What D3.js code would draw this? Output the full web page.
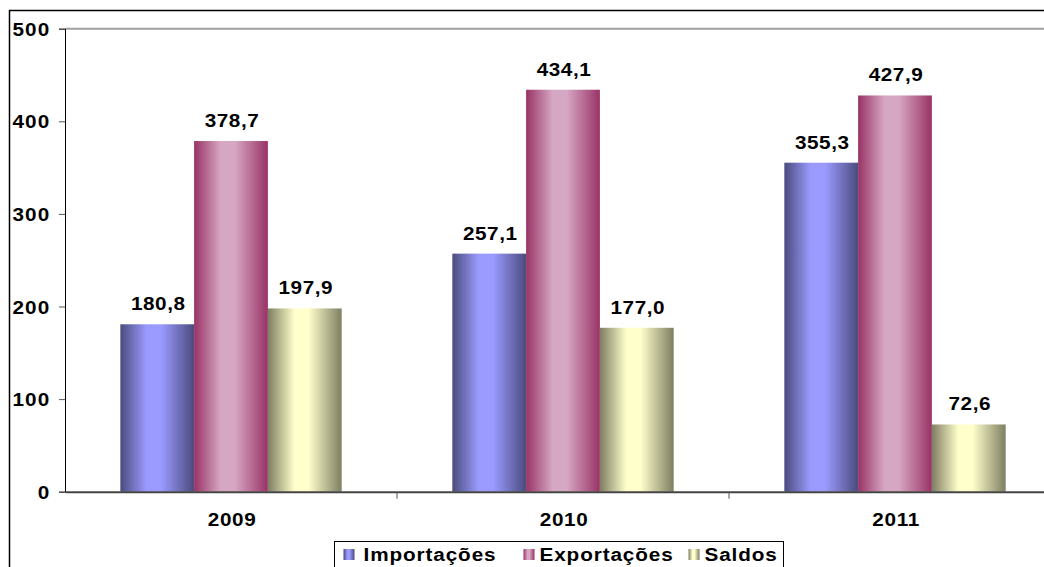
<!DOCTYPE html>
<html>
<head>
<meta charset="utf-8">
<script src="https://cdn.jsdelivr.net/npm/d3@7/dist/d3.min.js"></script>
<style>
  body { margin: 0; background: #fff; }
  svg { display: block; }
  text { font-family: "Liberation Sans", Arial, sans-serif; font-weight: bold; fill: #000; }
</style>
</head>
<body>
<svg id="chart" width="1044" height="567"></svg>
<script>
var years = ["2009", "2010", "2011"];
var seriesNames = ["Importações", "Exportações", "Saldos"];
var importacoes = [180.8, 257.1, 355.3];
var exportacoes = [378.7, 434.1, 427.9];
var saldos = [197.9, 177.0, 72.6];
var yTicks = [0, 100, 200, 300, 400, 500];

// colours for the cylinder-ish gradients (edge, highlight)
var shades = [
	{dark: "#4b4b7e", light: "#9b9bff"},
	{dark: "#993366", light: "#d6a7c2"},
	{dark: "#7e7e62", light: "#ffffcc"}
];

var svg = d3.select("#chart");
var width = 1044, height = 567;
var plotLeft = 65, plotTop = 28.7, plotBottom = 491.7, plotRight = 1061;
var sx = 1.12; // the original text is drawn a bit wide

var values = [importacoes, exportacoes, saldos];
var rows = [];
years.forEach(function(yr, i) {
	seriesNames.forEach(function(s, j) {
		rows.push({year: yr, series: j, value: values[j][i]});
	});
});

var defs = svg.append("defs");
shades.forEach(function(c, i) {
	var g = defs.append("linearGradient")
		.attr("id", "grad" + i)
		.attr("x1", "0%").attr("x2", "100%")
		.attr("y1", "0%").attr("y2", "0%");
	g.append("stop").attr("offset", "0%").attr("stop-color", c.dark);
	g.append("stop").attr("offset", "36%").attr("stop-color", c.light);
	g.append("stop").attr("offset", "55%").attr("stop-color", c.light);
	g.append("stop").attr("offset", "100%").attr("stop-color", c.dark);
});

var x0 = d3.scaleBand().domain(years).range([plotLeft, plotRight]);
var bw = x0.bandwidth();
var x1 = d3.scaleBand().domain(d3.range(seriesNames.length))
	.range([bw / 6, bw * 5 / 6]);
var y = d3.scaleLinear().domain([0, 500]).range([plotBottom, plotTop]);

// outer frame (only left and top edges fall inside the picture)
svg.append("path")
	.attr("d", "M9.5," + height + "V10.5H" + width)
	.attr("fill", "none")
	.attr("stroke", "#000")
	.attr("stroke-width", 1.5);

// plot area top border
svg.append("line")
	.attr("x1", plotLeft).attr("x2", width)
	.attr("y1", plotTop).attr("y2", plotTop)
	.attr("stroke", "#a0a0a0")
	.attr("stroke-width", 2);

// bars
svg.append("g").selectAll("rect")
	.data(rows)
	.enter()
	.append("rect")
	.attr("x", function(d) { return x0(d.year) + x1(d.series); })
	.attr("y", function(d) { return y(d.value); })
	.attr("width", x1.bandwidth())
	.attr("height", function(d) { return plotBottom - y(d.value); })
	.attr("fill", function(d) { return "url(#grad" + d.series + ")"; });

// value labels
svg.append("g").selectAll("g")
	.data(rows)
	.enter()
	.append("g")
	.attr("transform", function(d) {
		var cx = x0(d.year) + x1(d.series) + x1.bandwidth() / 2 + 1;
		return "translate(" + cx + "," + (y(d.value) - 14) + ") scale(" + sx + ",1)";
	})
	.append("text")
	.attr("text-anchor", "middle")
	.attr("font-size", 18.5)
	.attr("letter-spacing", 0.5)
	.text(function(d) { return d3.format(".1f")(d.value).replace(".", ","); });

// y axis
var yAxis = svg.append("g")
	.attr("transform", "translate(" + plotLeft + ",0)")
	.call(d3.axisLeft(y).tickValues(yTicks).tickSize(6).tickFormat(d3.format("d")));
yAxis.select(".domain").attr("stroke", "#000");
yAxis.selectAll(".tick line").attr("stroke", "#555");
yAxis.selectAll(".tick text")
	.attr("x", -14.7 / sx)
	.attr("dy", "0.36em")
	.attr("transform", "scale(" + sx + ",1)")
	.attr("font-size", 18.5)
	.attr("letter-spacing", 1)
	.attr("font-family", null);

// x axis
var xAxis = svg.append("g")
	.attr("transform", "translate(0," + plotBottom + ")")
	.call(d3.axisBottom(x0).tickSize(0).tickPadding(0));
xAxis.select(".domain").attr("stroke", "#444").attr("stroke-width", 2);
xAxis.selectAll(".tick text")
	.attr("y", 34)
	.attr("dy", null)
	.attr("x", 1)
	.attr("transform", "scale(" + sx + ",1)")
	.attr("font-size", 18.5)
	.attr("letter-spacing", 0.6)
	.attr("font-family", null);
// category separators below the axis
xAxis.append("g").selectAll("line")
	.data(years.slice(1))
	.enter()
	.append("line")
	.attr("x1", function(d) { return x0(d); })
	.attr("x2", function(d) { return x0(d); })
	.attr("y1", 0).attr("y2", 7)
	.attr("stroke", "#555");

// legend
var legend = svg.append("g").attr("transform", "translate(334.5,541.5)");
legend.append("rect")
	.attr("width", 449).attr("height", 40)
	.attr("fill", "#fff")
	.attr("stroke", "#000");
var legendX = [9, 189, 354];
var item = legend.selectAll("g.item")
	.data(seriesNames)
	.enter()
	.append("g")
	.classed("item", true)
	.attr("transform", function(d, i) { return "translate(" + legendX[i] + ",0)"; });
item.append("rect")
	.attr("y", 7.5).attr("width", 11).attr("height", 11)
	.attr("fill", function(d, i) { return "url(#grad" + i + ")"; });
item.append("text")
	.attr("transform", function(d, i) { return "translate(" + (i === 0 ? 20 : 16) + ",19.5) scale(" + sx + ",1)"; })
	.attr("font-size", 18.5)
	.attr("letter-spacing", 0.8)
	.text(function(d) { return d; });
</script>
</body>
</html>
